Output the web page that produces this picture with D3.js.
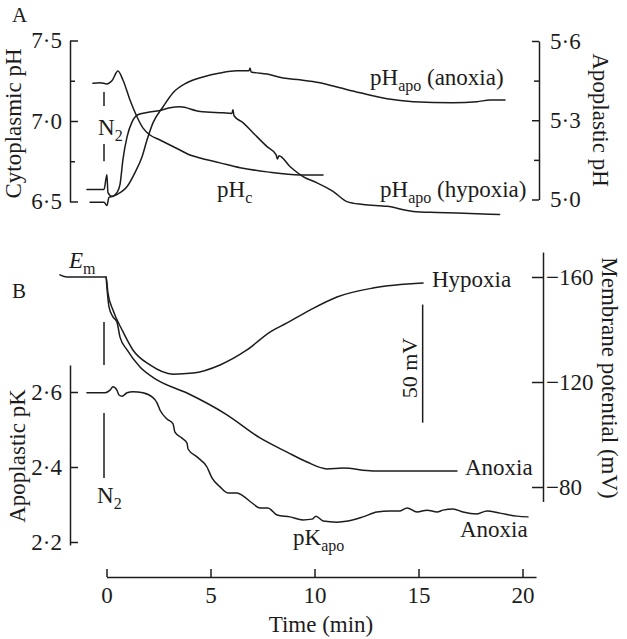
<!DOCTYPE html>
<html><head><meta charset="utf-8">
<script src="https://cdn.jsdelivr.net/npm/d3@7"></script>
<style>
html,body{margin:0;padding:0;background:#fff;}
svg{display:block;font-family:"Liberation Serif","Times New Roman",serif;}
text{fill:#1c1c1c;}
</style></head><body>
<svg id="c" width="627" height="639"></svg>
<script>
// ---------- data ----------
const timeTicks = [0, 5, 10, 15, 20];
const phcTicks = [6.5, 7.0, 7.5];
const phcMinorTicks = [6.75, 7.25];
const apoTicks = [5.0, 5.3, 5.6];
const apoMinorTicks = [5.15, 5.45];
const pkTicks = [2.2, 2.4, 2.6];
const emTicks = [-160, -120, -80];

// cytoplasmic pH (left axis, panel A) : [time min, pH]
const phc = [[-0.65,7.234],[-0.31,7.238],[0.02,7.23],[0.26,7.25],[0.55,7.31],[0.79,7.255],[1.13,7.13],[1.47,7.025],[1.75,6.957],[2.09,6.913],[2.57,6.882],[3.05,6.851],[3.53,6.82],[4.01,6.789],[4.5,6.77],[5.46,6.74],[6.42,6.71],[7.72,6.684],[9.3,6.665],[10.41,6.665]];

// apoplastic pH, anoxia (right axis, panel A)
const phApoAnoxia = [[-0.94,5.038],[-0.12,5.038],[0.02,5.094],[0.07,5.026],[0.26,5.012],[0.5,5.019],[0.99,5.049],[1.37,5.102],[1.71,5.162],[1.95,5.226],[2.24,5.291],[2.72,5.351],[3.2,5.404],[3.87,5.442],[4.64,5.464],[5.46,5.479],[6.27,5.487],[6.85,5.487],[6.9,5.498],[6.95,5.483],[7.72,5.475],[8.49,5.46],[9.3,5.453],[10.26,5.442],[11.22,5.423],[12.19,5.404],[13.49,5.381],[14.74,5.37],[16.66,5.366],[17.81,5.37],[18.44,5.377],[19.16,5.377]];

// apoplastic pH, hypoxia (right axis, panel A)
const phApoHypoxia = [[-0.79,4.99],[-0.12,4.99],[0.02,4.977],[0.12,5.008],[0.31,5.012],[0.5,5.026],[0.65,5.057],[0.79,5.151],[0.99,5.238],[1.23,5.294],[1.51,5.321],[1.95,5.329],[2.57,5.337],[3.05,5.347],[3.53,5.351],[4.5,5.333],[5.6,5.328],[6.03,5.326],[6.08,5.34],[6.13,5.317],[6.56,5.291],[7.04,5.253],[7.72,5.2],[8.15,5.17],[8.22,5.153],[8.29,5.166],[8.82,5.125],[9.45,5.087],[10.12,5.063],[10.89,5.031],[11.56,4.992],[12.33,4.981],[13.49,4.974],[14.74,4.955],[15.89,4.951],[17.48,4.947],[18.9,4.943]];

// membrane potential, hypoxia (right axis, panel B) : [time, mV]
const emHypoxia = [[-2.24,-160.8],[-1.9,-160],[-0.02,-160],[0.07,-153.9],[0.31,-147.4],[0.75,-139.8],[1.27,-132.2],[2.09,-126.5],[3.2,-123],[4.16,-123.4],[5.46,-126.5],[6.75,-132.2],[7.86,-139],[8.68,-142.5],[9.78,-147.4],[11.08,-152.4],[12.81,-155.8],[15.22,-157.7]];

// membrane potential, anoxia
const emAnoxia = [[-0.02,-160],[0.12,-148.6],[0.31,-144.8],[0.5,-142.9],[0.65,-137.1],[0.99,-132.2],[1.61,-125.7],[2.43,-120.8],[3.87,-115.8],[5.79,-107.5],[7.38,-98.7],[8.68,-93.3],[9.64,-89.5],[10.6,-86.9],[11.37,-87.2],[12.81,-86.1],[15.22,-86.1],[16.85,-86.1]];

// apoplastic pK, anoxia (left axis, panel B)
const pkApo = [[-0.94,2.598],[-0.07,2.598],[0.17,2.605],[0.31,2.614],[0.5,2.605],[0.6,2.592],[0.75,2.589],[0.99,2.598],[1.27,2.601],[1.75,2.598],[2.19,2.587],[2.43,2.571],[2.57,2.552],[2.91,2.528],[3.2,2.515],[3.29,2.493],[3.63,2.477],[3.87,2.464],[3.92,2.448],[4.35,2.427],[4.83,2.4],[5.07,2.371],[5.46,2.347],[5.84,2.331],[6.27,2.331],[6.56,2.323],[7.0,2.304],[7.38,2.291],[7.76,2.291],[8.2,2.272],[8.82,2.267],[9.45,2.259],[9.88,2.261],[10.07,2.269],[10.41,2.256],[11.08,2.253],[11.61,2.256],[12.33,2.267],[13.0,2.28],[13.63,2.283],[14.11,2.283],[14.45,2.291],[14.93,2.28],[15.41,2.285],[15.89,2.28],[16.18,2.285],[16.66,2.288],[17.14,2.28],[17.81,2.275],[18.29,2.283],[18.92,2.277],[19.74,2.269],[20.26,2.267]];

// annotation values (data units)
const n2Time = -0.12;
const n2TopSegments = [[7.18, 7.093], [6.857, 6.75]];      // cytoplasmic pH units
const n2BottomSegments = [[-142.9, -126.5], [-108.2, -83.4]]; // mV units
const scaleBar = {time: 15.2, from: -149.5, to: -104.5};

// ---------- drawing ----------
const svg = d3.select("#c");
const FS = 23;
const ink = "#1c1c1c";

const x = d3.scaleLinear().domain([0, 20]).range([106.5, 522.5]);
const yPhc = d3.scaleLinear().domain([6.5, 7.5]).range([201.5, 40.5]);
const yApo = d3.scaleLinear().domain([5.0, 5.6]).range([199.5, 41]);
const yPk = d3.scaleLinear().domain([2.2, 2.6]).range([542, 392]);
const yEm = d3.scaleLinear().domain([-160, -80]).range([277, 487]);

const dotFmt = d => d3.format(".1f")(d).replace(".", "\u00B7");

function styleAxis(g) {
  g.selectAll("path.domain").attr("stroke", ink).attr("stroke-width", 1.5);
  g.selectAll(".tick line").attr("stroke", ink).attr("stroke-width", 1.5);
  g.selectAll(".tick text").attr("font-size", FS).attr("fill", ink)
    .attr("font-family", '"Liberation Serif","Times New Roman",serif');
}
function minor(g) {
  g.select("path.domain").remove();
  g.selectAll(".tick line").attr("stroke", ink).attr("stroke-width", 1.5);
}

// Panel A left axis
svg.append("g").attr("transform", "translate(70,0)")
  .call(d3.axisLeft(yPhc).tickValues(phcTicks).tickSize(-8).tickSizeOuter(0).tickPadding(8).tickFormat(dotFmt))
  .call(styleAxis);
svg.append("g").attr("transform", "translate(70,0)")
  .call(d3.axisLeft(yPhc).tickValues(phcMinorTicks).tickSize(-5).tickFormat(""))
  .call(minor);

// Panel A right axis
svg.append("g").attr("transform", "translate(539,0)")
  .call(d3.axisRight(yApo).tickValues(apoTicks).tickSize(-7).tickSizeOuter(0).tickPadding(11).tickFormat(dotFmt))
  .call(styleAxis);
svg.append("g").attr("transform", "translate(539,0)")
  .call(d3.axisRight(yApo).tickValues(apoMinorTicks).tickSize(-5).tickFormat(""))
  .call(minor);

// Panel B left axis (pK)
const yPkAxis = yPk.copy().domain([2.192, 2.672]).range([yPk(2.192), yPk(2.672)]);
svg.append("g").attr("transform", "translate(70,0)")
  .call(d3.axisLeft(yPkAxis).tickValues(pkTicks).tickSize(-8).tickSizeOuter(0).tickPadding(8).tickFormat(dotFmt))
  .call(styleAxis);

// Panel B right axis (Em)
const yEmAxis = yEm.copy().domain([-169.5, -74.5]).range([yEm(-169.5), yEm(-74.5)]);
svg.append("g").attr("transform", "translate(543,0)")
  .call(d3.axisRight(yEmAxis).tickValues(emTicks).tickSize(-11).tickSizeOuter(0).tickPadding(3).tickFormat(d3.format("d")))
  .call(styleAxis);

// Time axis
const xAxisScale = x.copy().domain([0, 20.65]).range([x(0), x(20.65)]);
svg.append("g").attr("transform", "translate(0,577)")
  .call(d3.axisBottom(xAxisScale).tickValues(timeTicks).tickSize(-8).tickSizeOuter(0).tickPadding(10).tickFormat(d3.format("d")))
  .call(styleAxis);

// Curves
const mk = (ys) => d3.line().x(d => x(d[0])).y(d => ys(d[1])).curve(d3.curveMonotoneX);
function curve(data, ys) {
  svg.append("path").datum(data).attr("d", mk(ys))
    .attr("fill", "none").attr("stroke", ink).attr("stroke-width", 1.5)
    .attr("stroke-linejoin", "round").attr("stroke-linecap", "round");
}
curve(phc, yPhc);
curve(phApoAnoxia, yApo);
curve(phApoHypoxia, yApo);
curve(emHypoxia, yEm);
curve(emAnoxia, yEm);
curve(pkApo, yPk);

// N2 markers
n2TopSegments.forEach(s => svg.append("line")
  .attr("x1", x(n2Time)).attr("x2", x(n2Time)).attr("y1", yPhc(s[0])).attr("y2", yPhc(s[1]))
  .attr("stroke", ink).attr("stroke-width", 1.5));
n2BottomSegments.forEach(s => svg.append("line")
  .attr("x1", x(n2Time)).attr("x2", x(n2Time)).attr("y1", yEm(s[0])).attr("y2", yEm(s[1]))
  .attr("stroke", ink).attr("stroke-width", 1.5));

// scale bar
svg.append("line").attr("x1", x(scaleBar.time)).attr("x2", x(scaleBar.time))
  .attr("y1", yEm(scaleBar.from)).attr("y2", yEm(scaleBar.to))
  .attr("stroke", ink).attr("stroke-width", 1.5);

// ---------- text ----------
function label(xp, yp, parts, opts = {}) {
  const t = svg.append("text").attr("x", xp).attr("y", yp).attr("font-size", opts.size || FS)
    .attr("text-anchor", opts.anchor || "start");
  if (opts.transform) t.attr("transform", opts.transform).attr("x", 0).attr("y", 0);
  let shift = 0;
  parts.forEach(p => {
    const sp = t.append("tspan").text(p.t);
    if (p.sub) { sp.attr("font-size", 16).attr("dy", 6 - shift); shift = 6; }
    else { if (shift) sp.attr("dy", -shift); shift = 0; }
    if (p.italic) sp.attr("font-style", "italic");
  });
  return t;
}
label(12, 22, [{t: "A"}], {size: 21});
label(12, 298, [{t: "B"}], {size: 21});
label(0, 0, [{t: "Cytoplasmic pH"}], {anchor: "middle", transform: "translate(21,123.5) rotate(-90)"});
label(0, 0, [{t: "Apoplastic pH"}], {anchor: "middle", transform: "translate(593,120) rotate(90)"});
label(0, 0, [{t: "Apoplastic pK"}], {anchor: "middle", transform: "translate(25,456) rotate(-90)"});
label(0, 0, [{t: "Membrane potential (mV)"}], {anchor: "middle", transform: "translate(602,378) rotate(90)"});
label(321, 632, [{t: "Time (min)"}], {anchor: "middle"});
label(370, 85, [{t: "pH"}, {t: "apo", sub: true}, {t: " (anoxia)"}]);
label(380, 197, [{t: "pH"}, {t: "apo", sub: true}, {t: " (hypoxia)"}]);
label(217, 197, [{t: "pH"}, {t: "c", sub: true}]);
label(98, 135, [{t: "N"}, {t: "2", sub: true}]);
label(97, 503, [{t: "N"}, {t: "2", sub: true}]);
label(69, 268, [{t: "E", italic: true}, {t: "m", sub: true}]);
label(432, 287, [{t: "Hypoxia"}]);
label(465, 475, [{t: "Anoxia"}]);
label(460, 537, [{t: "Anoxia"}]);
label(293, 545, [{t: "pK"}, {t: "apo", sub: true}]);
label(0, 0, [{t: "50 mV"}], {anchor: "middle", size: 22, transform: "translate(417,368) rotate(-90)"});
</script>
</body></html>
